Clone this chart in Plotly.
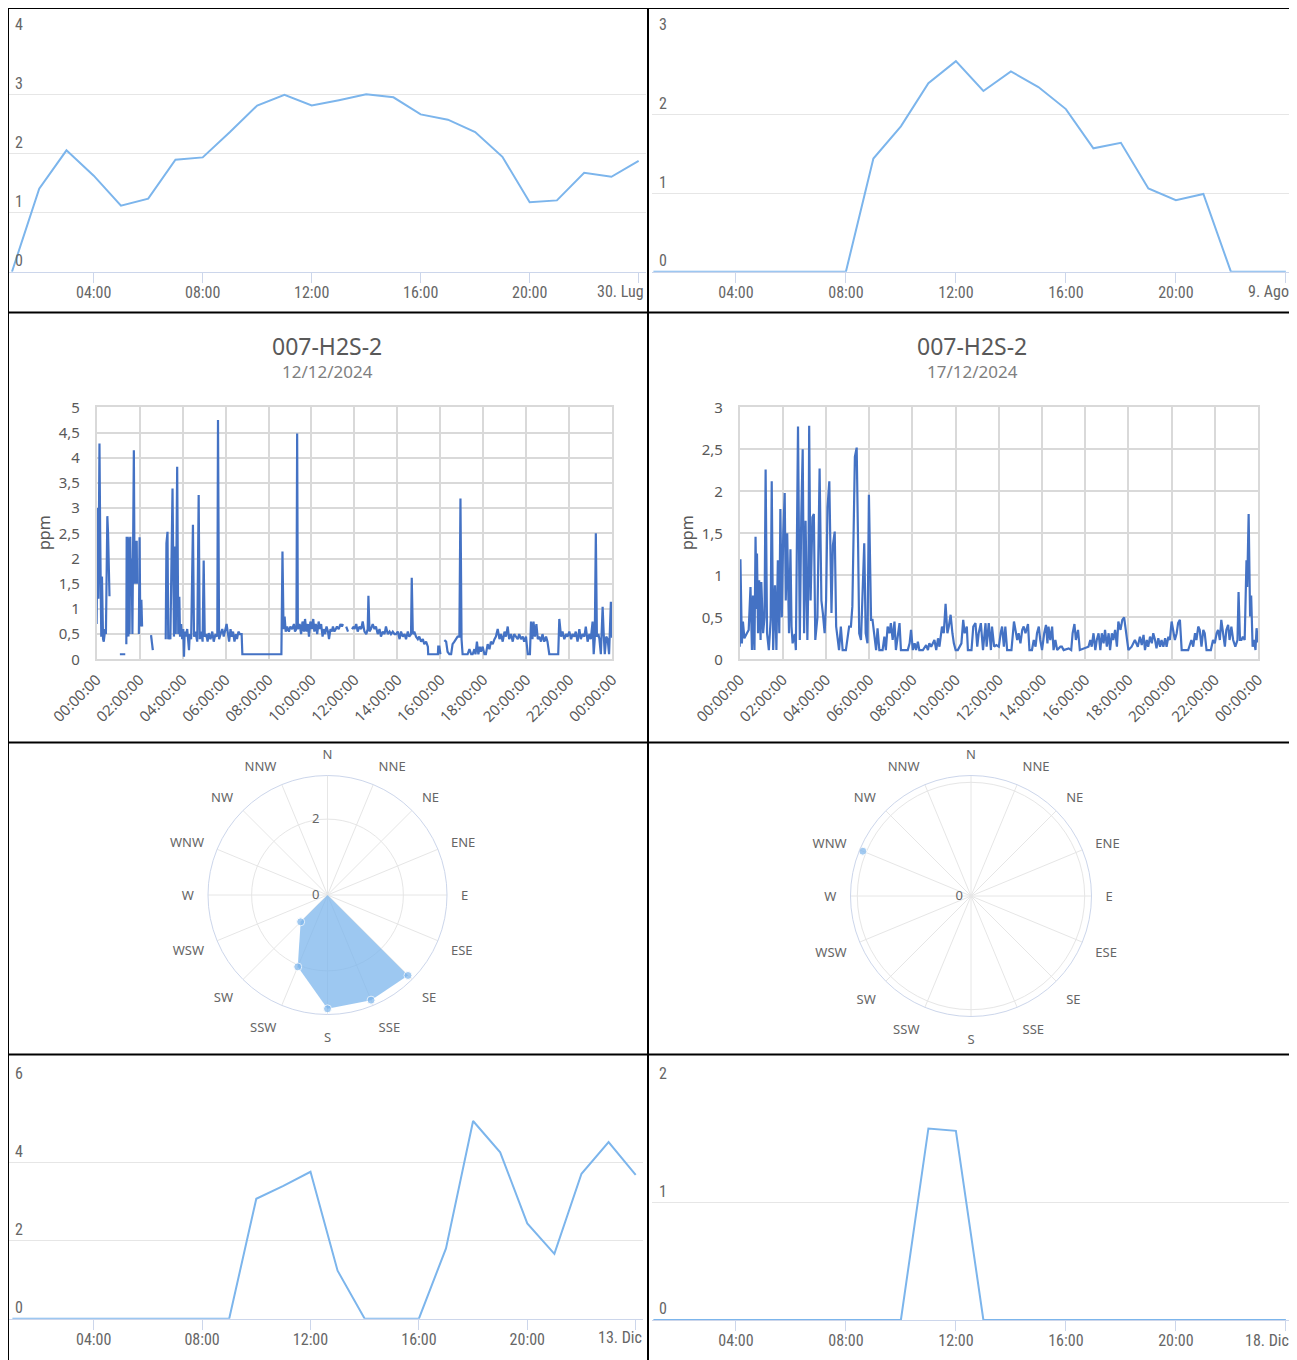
import plotly.graph_objects as go

W, H = 1297, 1360

# ---------------- data ----------------
hours = list(range(1, 25))
p1_vals = [0, 1.41, 2.06, 1.63, 1.12, 1.24, 1.90, 1.94, 2.37, 2.82, 3.00, 2.82,
           2.91, 3.01, 2.96, 2.67, 2.58, 2.37, 1.95, 1.18, 1.21, 1.68, 1.61, 1.88]
p2_vals = [0, 0, 0, 0, 0, 0, 0, 0, 1.44, 1.85, 2.40, 2.68,
           2.30, 2.55, 2.35, 2.07, 1.57, 1.64, 1.06, 0.91, 0.99, 0, 0, 0]
p7_vals = [0, 0, 0, 0, 0, 0, 0, 0, 0, 3.07, 3.40, 3.76,
           1.23, 0, 0, 0, 1.80, 5.06, 4.26, 2.44, 1.66, 3.71, 4.52, 3.68]
p8_vals = [0, 0, 0, 0, 0, 0, 0, 0, 0, 0, 1.63, 1.61,
           0, 0, 0, 0, 0, 0, 0, 0, 0, 0, 0, 0]

hc_tickvals = [4, 8, 12, 16, 20, 24]
hc_ticktext = ["04:00", "08:00", "12:00", "16:00", "20:00", ""]
hc_lastlabels = ["30. Lug", "9. Ago", "13. Dic", "18. Dic"]

# 12/12/2024 H2S series (minutes since midnight, ppm; None = gap)
p3_min = [0, 1, 2, 3, 5, 7, 8, 10, 11, 13, 15, 16, 18, 20, 22, 24, 26, 28, 30, 32, 34, 36, None,
          65, 80, None,
          83, 84, 86, 87, 89, 90, 92, 94, 96, 98, 100, 102, 104, 106, 108, 110, 112, 113, None,
          118, 120, 122, None, 125, 127, None,
          152, 157, None,
          193, 195, 198, 200, 203, 206, 212, 216, 219, 221, 225, 228, 231, 233, 236, 239, 242, 244,
          246, 249, 253, 258, 260, 264, 269, 272, 276, 281, 285, 288, 292, 296, 299, 302, 306, 310,
          313, 318, 323, 327, 332, 337, 339, 342, 346, 351, 355, 360, 363, 366, 370, 374, 377, 381,
          385, 389, 392, 396, 400, 405, 407, 513, 516, 519, 522, 525, 528, 532, 537, 541, 546, 551,
          554, 558, 560, 562, 567, 571, 575, 579, 582, 586, 590, 593, 597, 601, 605, 608, 612, 616,
          620, 623, 627, 631, 634, 638, 642, 646, 649, 653, 657, 660, 664, 668, 671, 676, 681, 685,
          688, None, 697, 702, None, 713, 718,
          720, 725, 729, 734, 739, 743, 748, 753, 757, 759, 762, 766, 771, 776, 780, 785, 790, 794,
          799, 804, 808, 813, 818, 822, 827, 832, 836, 841, 846, 850, 855, 860, 864, 869, 873, 878,
          880, 883, 887, 892, 897, 901, 906, 911, 915, 920, 925, 926, 953, 954, 957, 960, None,
          971, 976, 980, 985, 990, 994, 999, 1004, 1008, 1013, 1016, 1019, 1022, 1032, 1036, 1041,
          1046, 1050, 1055, 1058, 1062, 1066, 1070, 1073, 1078, 1083, 1087, 1092, 1097, 1101, 1106,
          1111, 1115, 1120, 1125, 1129, 1134, 1139, 1143, 1148, 1152, 1157, 1162, 1166, 1171, 1176,
          1180, 1185, 1190, 1194, 1199, 1204, 1210, 1213, 1217, 1220, 1224, 1228, 1232, 1236, 1241,
          1245, 1250, 1255, 1259, 1264, 1289, 1292, 1297, 1301, 1306, 1311, 1315, 1320, 1325, 1329,
          1334, 1338, 1343, 1348, 1352, 1357, 1362, 1366, 1371, 1376, 1380, 1385, 1388, 1391, 1394,
          1397, 1401, 1404, 1408, 1411, 1413, 1416, 1419, 1423, 1427, 1431, 1433, 1436, 1439, 1440]
p3_ppm = [0.7, 3.0, 0.8, 3.0, 1.2, 3.6, 4.28, 2.5, 0.6, 0.45, 1.64, 0.5, 0.4, 0.35, 0.45, 0.6, 0.5, 1.8, 2.84, 2.5, 1.5, 1.25, None,
          0.1, 0.1, None,
          0.3, 2.43, 0.5, 2.43, 0.45, 2.4, 0.5, 2.43, 1.4, 2.0, 0.5, 2.4, 4.15, 1.5, 2.35, 1.5, 2.35, 1.5, None,
          0.5, 2.42, 0.65, None, 1.18, 0.65, None,
          0.48, 0.18, None,
          0.4, 2.3, 2.53, 0.4, 0.45, 0.4, 3.39, 0.45, 2.24, 0.5, 3.82, 0.5, 1.24, 0.45, 0.7, 0.4, 0.6, 0.05,
          0.55, 0.45, 0.6, 0.18, 0.5, 0.4, 2.67, 0.45, 0.55, 0.35, 3.26, 0.4, 0.55, 0.35, 1.96, 0.45, 0.5, 0.35,
          0.52, 0.4, 0.55, 0.35, 0.5, 0.45, 4.75, 0.4, 0.5, 0.6, 0.45, 0.62, 0.7, 0.55, 0.35, 0.6, 0.45, 0.55,
          0.35, 0.5, 0.4, 0.55, 0.5, 0.5, 0.1, 0.1, 0.1, 2.14, 0.6, 0.85, 0.55, 0.65, 0.55, 0.65, 0.6, 0.7,
          0.55, 0.6, 4.48, 0.6, 0.7, 0.5, 0.75, 0.55, 0.8, 0.55, 0.7, 0.45, 0.75, 0.6, 0.8, 0.55, 0.7, 0.5,
          0.75, 0.6, 0.7, 0.45, 0.6, 0.5, 0.65, 0.55, 0.4, 0.6, 0.55, 0.65, 0.55, 0.6, 0.65, 0.6, 0.7, 0.65,
          0.7, None, 0.65, 0.55, None, 0.6, 0.65,
          0.6, 0.7, 0.55, 0.65, 0.6, 0.75, 0.55, 0.5, 0.6, 1.26, 0.55, 0.6, 0.7, 0.6, 0.65, 0.5, 0.6, 0.45,
          0.55, 0.5, 0.65, 0.5, 0.55, 0.5, 0.55, 0.5, 0.5, 0.55, 0.4, 0.55, 0.45, 0.5, 0.4, 0.55, 0.45, 0.5,
          1.62, 0.5, 0.55, 0.45, 0.4, 0.45, 0.35, 0.4, 0.3, 0.35, 0.25, 0.1, 0.1, 0.25, 0.25, 0.1, None,
          0.38, 0.35, 0.15, 0.1, 0.1, 0.3, 0.35, 0.4, 0.45, 0.45, 3.19, 0.4, 0.1, 0.1, 0.1, 0.2,
          0.1, 0.1, 0.2, 0.1, 0.35, 0.1, 0.25, 0.15, 0.25, 0.1, 0.1, 0.3, 0.2, 0.35, 0.3,
          0.4, 0.45, 0.6, 0.4, 0.5, 0.35, 0.55, 0.45, 0.65, 0.4, 0.5, 0.35, 0.5, 0.45, 0.4,
          0.5, 0.4, 0.45, 0.35, 0.45, 0.1, 0.1, 0.75, 0.4, 0.75, 0.45, 0.7, 0.4, 0.45, 0.35,
          0.5, 0.35, 0.45, 0.35, 0.1, 0.1, 0.8, 0.45, 0.55, 0.4, 0.5, 0.45, 0.55, 0.4, 0.5,
          0.45, 0.55, 0.35, 0.6, 0.4, 0.5, 0.45, 0.65, 0.35, 0.5, 0.4, 0.75, 0.1, 0.4, 2.5,
          0.45, 0.5, 0.4, 0.1, 0.5, 1.04, 0.5, 0.1, 0.45, 0.4, 0.1, 0.45, 1.14, 0.45, 0.45]

# 17/12/2024 H2S series (minutes since midnight, ppm)
p4_min = [0, 2, 6, 9, 13, 17, 20, 25, 30, 34, 37, 41, 44, 47, 48, 51, 54, 58, 60, 65, 69, 72, 76, 81,
          86, 89, 93, 98, 102, 106, 110, 113, 117, 121, 125, 128, 132, 137, 141, 144, 147, 153, 156,
          162, 166, 167, 171, 175, 179, 183, 188, 191, 193, 197, 202, 206, 210, 216, 222, 227, 231,
          236, 240, 244, 249, 255, 259, 264, 268, 272, 276, 281, 286, 295, 304, 309, 313, 320, 325,
          329, 332, 337, 340, 346, 350, 355, 359, 365, 369, 374, 379, 383, 388, 397, 402, 406, 411,
          416, 420, 425, 430, 434, 444, 448, 467, 472, 476, 481, 486, 490, 495, 499, 509, 518, 523,
          527, 532, 541, 546, 551, 555, 562, 567, 572, 577, 581, 586, 591, 595, 600, 606, 616, 621,
          625, 631, 634, 644, 649, 655, 660, 664, 670, 676, 683, 686, 692, 698, 701, 707, 713, 718,
          720, 725, 729, 734, 738, 743, 755, 762, 766, 771, 775, 780, 785, 789, 794, 801, 805, 812,
          817, 822, 826, 831, 835, 840, 846, 851, 855, 858, 863, 868, 872, 877, 882, 891, 895, 900,
          914, 921, 925, 930, 934, 940, 945, 960, 969, 974, 978, 983, 988, 992, 997, 1002, 1006,
          1011, 1015, 1020, 1025, 1029, 1034, 1038, 1043, 1048, 1052, 1058, 1063, 1068, 1073, 1080,
          1089, 1098, 1106, 1112, 1117, 1122, 1126, 1131, 1135, 1140, 1145, 1149, 1154, 1158, 1163,
          1168, 1172, 1177, 1182, 1186, 1191, 1195, 1200, 1205, 1209, 1214, 1218, 1223, 1228, 1246,
          1251, 1255, 1260, 1265, 1269, 1274, 1278, 1283, 1288, 1292, 1297, 1309, 1315, 1320, 1325,
          1329, 1334, 1338, 1343, 1348, 1352, 1357, 1361, 1366, 1371, 1377, 1383, 1386, 1390, 1394,
          1398, 1403, 1408, 1410, 1414, 1418, 1421, 1425, 1429, 1433, 1436, 1440]
p4_ppm = [0.15, 1.19, 0.19, 0.45, 0.25, 0.3, 0.31, 0.35, 0.86, 0.11, 0.76, 0.11, 1.46, 0.6, 1.26, 0.31, 0.94, 0.23, 0.92, 0.31, 0.5, 2.26, 0.31, 0.11,
          0.47, 2.12, 0.11, 0.88, 0.11, 1.18, 0.31, 1.79, 0.5, 1.5, 1.98, 0.7, 1.5, 0.31, 1.31, 0.39, 0.19, 0.3, 0.11,
          2.77, 0.5, 0.23, 1.69, 2.5, 0.31, 1.65, 0.23, 1.0, 2.78, 0.7, 1.69, 1.73, 0.23, 0.5, 2.27, 0.7, 0.55,
          0.31, 0.7, 1.81, 2.12, 0.55, 1.36, 1.52, 0.39, 0.23, 0.11, 0.39, 0.11, 0.11, 0.39, 0.39, 0.63, 2.41, 2.52,
          1.34, 0.31, 0.23, 0.59, 1.38, 0.31, 0.19, 1.96, 0.47, 0.47, 0.31, 0.11, 0.37, 0.11, 0.11, 0.27, 0.11, 0.39,
          0.31, 0.43, 0.23, 0.45, 0.11, 0.43, 0.11, 0.11, 0.19, 0.35, 0.11, 0.19, 0.11, 0.21, 0.11, 0.11, 0.17, 0.11,
          0.19, 0.15, 0.23, 0.11, 0.25, 0.15, 0.39, 0.31, 0.66, 0.31, 0.39, 0.53, 0.31, 0.19, 0.11, 0.11, 0.19, 0.47,
          0.31, 0.39, 0.11, 0.11, 0.39, 0.43, 0.15, 0.31, 0.43, 0.11, 0.43, 0.15, 0.43, 0.11, 0.39, 0.15, 0.17, 0.15,
          0.15, 0.31, 0.39, 0.15, 0.39, 0.11, 0.11, 0.45, 0.35, 0.23, 0.31, 0.19, 0.35, 0.39, 0.31, 0.42, 0.11, 0.11,
          0.23, 0.15, 0.31, 0.39, 0.23, 0.11, 0.31, 0.41, 0.19, 0.39, 0.23, 0.39, 0.11, 0.23, 0.11, 0.15, 0.15, 0.11,
          0.13, 0.11, 0.31, 0.42, 0.23, 0.35, 0.11, 0.13, 0.15, 0.23, 0.15, 0.31, 0.11, 0.23, 0.31, 0.11, 0.31,
          0.19, 0.35, 0.15, 0.31, 0.11, 0.31, 0.23, 0.35, 0.15, 0.45, 0.35, 0.47, 0.5, 0.31, 0.11,
          0.15, 0.23, 0.15, 0.27, 0.17, 0.29, 0.11, 0.23, 0.15, 0.27, 0.19, 0.31, 0.23, 0.13, 0.25,
          0.15, 0.23, 0.15, 0.25, 0.15, 0.27, 0.23, 0.45, 0.35, 0.23, 0.31, 0.43, 0.47, 0.11, 0.11,
          0.17, 0.23, 0.15, 0.31, 0.23, 0.39, 0.35, 0.15, 0.35, 0.31, 0.11, 0.11, 0.23, 0.19, 0.31,
          0.35, 0.23, 0.47, 0.31, 0.15, 0.35, 0.41, 0.23, 0.39, 0.23, 0.15, 0.23, 0.80, 0.23, 0.23,
          0.27, 0.23, 1.18, 0.86, 1.73, 0.51, 0.76, 0.15, 0.23, 0.11, 0.37, 0.2]

xl_tickvals = [0, 120, 240, 360, 480, 600, 720, 840, 960, 1080, 1200, 1320, 1440]
xl_ticktext = ["00:00:00", "02:00:00", "04:00:00", "06:00:00", "08:00:00", "10:00:00", "12:00:00",
               "14:00:00", "16:00:00", "18:00:00", "20:00:00", "22:00:00", "00:00:00"]
p3_yvals = [0, 0.5, 1, 1.5, 2, 2.5, 3, 3.5, 4, 4.5, 5]
p3_ytext = ["0", "0,5", "1", "1,5", "2", "2,5", "3", "3,5", "4", "4,5", "5"]
p4_yvals = [0, 0.5, 1, 1.5, 2, 2.5, 3]
p4_ytext = ["0", "0,5", "1", "1,5", "2", "2,5", "3"]
chart_title = "007-H2S-2"
dates = ["12/12/2024", "17/12/2024"]

directions = ["N", "NNE", "NE", "ENE", "E", "ESE", "SE", "SSE",
              "S", "SSW", "SW", "WSW", "W", "WNW", "NW", "NNW"]
rose1 = [0, 0, 0, 0, 0, 0, 3.0, 3.0, 3.0, 2.05, 1.0, 0, 0, 0, 0, 0]
rose2 = [0, 0, 0, 0, 0, 0, 0, 0, 0, 0, 0, 0, 0, 1.03, 0, 0]

# ---------------- helpers ----------------
# the page body has an 8px margin: shift all layout positions accordingly
OFF = 8

def X(px):
    return (px - OFF) / W

def Y(py):
    return 1 - (py - OFF) / H

HC_BLUE = "#7cb5ec"
XL_BLUE = "#4472C4"
HC_FONT = dict(family="Liberation Sans Narrow, Roboto Condensed, Roboto, sans-serif", size=16, color="#666666")
XL_FONT = dict(family="Noto Sans, Open Sans, sans-serif", size=15, color="#595959")
POL_FONT = dict(family="Noto Sans, Open Sans, sans-serif", size=13, color="#666666")

fig = go.Figure()

# Highcharts-like line panels
hc_panels = [
    ("x", "y", p1_vals), ("x2", "y2", p2_vals), ("x5", "y5", p7_vals), ("x6", "y6", p8_vals)
]
for xa, ya, vals in hc_panels:
    fig.add_trace(go.Scatter(x=hours, y=vals, xaxis=xa, yaxis=ya, mode="lines",
                             line=dict(color=HC_BLUE, width=2), hoverinfo="skip", showlegend=False))

# Excel-like panels
fig.add_trace(go.Scatter(x=p3_min, y=p3_ppm, xaxis="x3", yaxis="y3", mode="lines",
                         line=dict(color=XL_BLUE, width=2.2), connectgaps=False, showlegend=False))
fig.add_trace(go.Scatter(x=p4_min, y=p4_ppm, xaxis="x4", yaxis="y4", mode="lines",
                         line=dict(color=XL_BLUE, width=2.2), showlegend=False))

# wind roses
for pol, vals in (("polar", rose1), ("polar2", rose2)):
    fig.add_trace(go.Scatterpolar(r=vals + [vals[0]], theta=directions + [directions[0]], subplot=pol,
                                  mode="lines+markers", fill="toself",
                                  fillcolor="rgba(124,181,236,0.75)",
                                  line=dict(color=HC_BLUE, width=0),
                                  marker=dict(color=HC_BLUE, size=[8 if v > 0 else 0 for v in vals + [vals[0]]]),
                                  showlegend=False))


def hc_x(dom, rng):
    return dict(domain=[X(dom[0]), X(dom[1])], range=rng, tickvals=hc_tickvals, ticktext=hc_ticktext,
                ticks="outside", ticklen=10, tickcolor="#ccd6eb", showline=True, linecolor="#ccd6eb",
                linewidth=1, showgrid=False, zeroline=False, tickfont=HC_FONT, automargin=False,
                ticklabelstandoff=-4)


def hc_y(dom, rng, tv, anchor):
    return dict(domain=[Y(dom[1]), Y(dom[0])], range=rng, tickvals=tv, showgrid=True, gridcolor="#e6e6e6",
                zeroline=False, showline=False, ticks="", ticklabelposition="inside top",
                ticklabeloverflow="allow", ticklabelstandoff=4, tickfont=HC_FONT, anchor=anchor,
                automargin=False)


def xl_x(dom, anchor):
    return dict(domain=[X(dom[0]), X(dom[1])], range=[0, 1440], tickvals=xl_tickvals, ticktext=xl_ticktext,
                tickangle=-45, showgrid=True, gridcolor="#d9d9d9", gridwidth=1.5, showline=True, mirror=True,
                linecolor="#d9d9d9", linewidth=1.5, ticks="", zeroline=False, tickfont=XL_FONT, anchor=anchor,
                automargin=False, ticklabelstandoff=4)


def xl_y(dom, rng, tv, tt, anchor):
    return dict(domain=[Y(dom[1]), Y(dom[0])], range=rng, tickvals=tv, ticktext=tt, showgrid=True,
                gridcolor="#d9d9d9", gridwidth=1.5, showline=True, mirror=True, linecolor="#d9d9d9",
                linewidth=1.5, ticks="", zeroline=False, tickfont=XL_FONT, ticklabelstandoff=12,
                anchor=anchor, automargin=False)


fig.update_layout(
    width=W, height=H, autosize=False, margin=dict(l=0, r=0, t=0, b=0, autoexpand=False),
    paper_bgcolor="white", plot_bgcolor="white", showlegend=False,
    xaxis=dict(hc_x((8, 646), [0.854, 24.27]), anchor="y"),
    yaxis=hc_y((36, 271.7), [0, 4], [0, 1, 2, 3, 4], "x"),
    xaxis2=dict(hc_x((652, 1290), [0.949, 24.15]), anchor="y2"),
    yaxis2=hc_y((36, 271.7), [0, 3], [0, 1, 2, 3], "x2"),
    xaxis5=dict(hc_x((8, 643), [0.838, 24.27]), anchor="y5"),
    yaxis5=hc_y((1084.3, 1318.7), [0, 6], [0, 2, 4, 6], "x5"),
    xaxis6=dict(hc_x((652, 1290), [0.949, 24.15]), anchor="y6"),
    yaxis6=hc_y((1085, 1320), [0, 2], [0, 1, 2], "x6"),
    xaxis3=xl_x((96.6, 612.3), "y3"),
    yaxis3=xl_y((407.3, 659.3), [0, 5], p3_yvals, p3_ytext, "x3"),
    xaxis4=xl_x((739.7, 1258), "y4"),
    yaxis4=xl_y((407.3, 659.3), [0, 3], p4_yvals, p4_ytext, "x4"),
)

def polar_layout(cx, cy, r, rng, tv, tt):
    return dict(
        domain=dict(x=[X(cx - r), X(cx + r)], y=[Y(cy + r), Y(cy - r)]),
        bgcolor="white",
        angularaxis=dict(type="category", categoryarray=directions, direction="clockwise", rotation=90,
                         showline=True, linecolor="#ccd6eb", linewidth=1, gridcolor="#e6e6e6",
                         ticks="outside", ticklen=11, tickcolor="rgba(0,0,0,0)", tickfont=POL_FONT),
        radialaxis=dict(range=rng, tickvals=tv, ticktext=tt, angle=90, tickangle=90, showline=False,
                        side="counterclockwise", gridcolor="#e6e6e6", ticks="outside", ticklen=3,
                        tickcolor="rgba(0,0,0,0)", tickfont=POL_FONT),
    )

fig.update_layout(
    polar=polar_layout(327.5, 895, 119.5, [0, 3.15], [0, 2], ["0", "2"]),
    polar2=polar_layout(971, 896, 120.5, [0, 1.06], [0, 1], ["0", ""]),
)

# titles / labels
def note(px, py, text, font, xanchor="center", angle=0):
    return dict(x=X(px), y=Y(py), xref="paper", yref="paper", text=text, showarrow=False,
                xanchor=xanchor, yanchor="middle", textangle=angle, font=font)

ann = []
for cx, d in ((327, dates[0]), (972, dates[1])):
    ann.append(note(cx, 346, chart_title, dict(family="Noto Sans, Open Sans, sans-serif", size=23, color="#595959")))
    ann.append(note(cx, 372, d, dict(family="Noto Sans, Open Sans, sans-serif", size=17, color="#7f7f7f")))
for px in (44, 687):
    ann.append(note(px, 533, "ppm", dict(family="Noto Sans, Open Sans, sans-serif", size=16, color="#595959"),
                    angle=-90))
for (rx, cy), t in zip(((646, 291), (1291, 291), (644, 1337), (1291, 1340)), hc_lastlabels):
    ann.append(note(rx, cy, t, HC_FONT, xanchor="right"))
fig.update_layout(annotations=ann)

# panel borders
shapes = []
for xv in (OFF, 648, 1291):
    shapes.append(dict(type="line", xref="paper", yref="paper", x0=X(xv), x1=X(xv), y0=Y(OFF), y1=Y(1370),
                       line=dict(color="black", width=2)))
for yv in (OFF, 312.5, 742.5, 1054.5):
    shapes.append(dict(type="line", xref="paper", yref="paper", x0=X(OFF), x1=X(1291), y0=Y(yv), y1=Y(yv),
                       line=dict(color="black", width=2)))
fig.update_layout(shapes=shapes)

fig.write_html("out.html")
